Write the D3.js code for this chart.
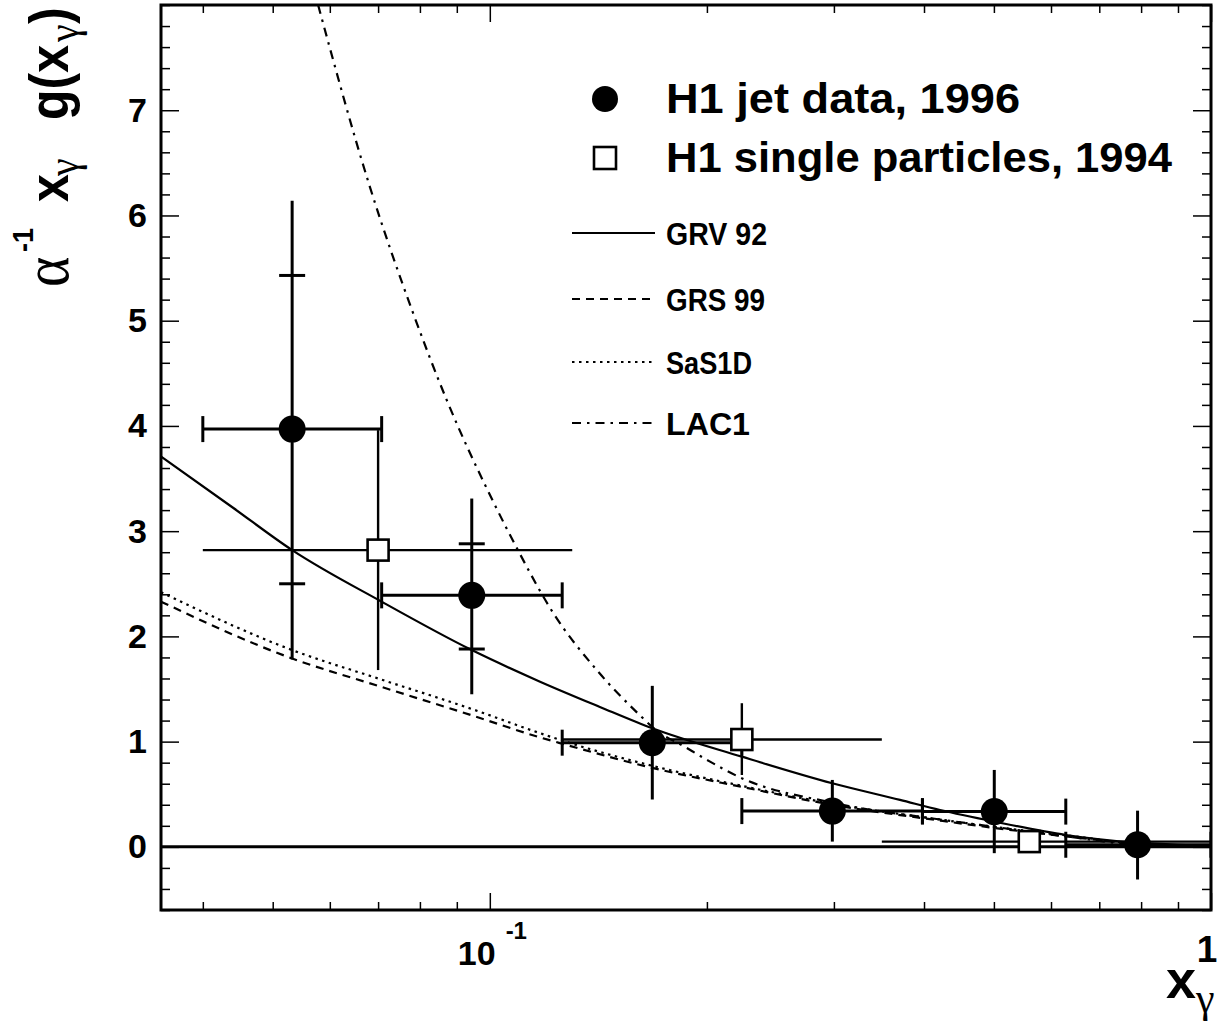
<!DOCTYPE html>
<html>
<head>
<meta charset="utf-8">
<script src="https://cdn.jsdelivr.net/npm/d3@7"></script>
<style>
  body { margin: 0; background: #fff; }
  svg { display: block; font-family: "Liberation Sans", Arial, Helvetica, sans-serif; font-weight: bold; }
  .axis path { display: none; }
  .axis line { stroke: #000; stroke-width: 1.5; }
  .axis text { font-size: 34px; font-weight: bold; fill: #000; }
</style>
</head>
<body>
<svg id="chart" width="1222" height="1024"></svg>
<script>
// H1 jet data, 1996 (filled circles)
const jetX = [0.0532, 0.0944, 0.168, 0.2985, 0.5006, 0.791]
const jetY = [3.97, 2.39, 0.99, 0.34, 0.335, 0.02]
const jetXLo = [0.040, 0.0708, 0.126, 0.2236, 0.398, 0.629]
const jetXHi = [0.0708, 0.126, 0.2236, 0.398, 0.629, 1.0]
const jetYLo = [1.78, 1.45, 0.45, 0.05, -0.06, -0.31]
const jetYHi = [6.14, 3.31, 1.53, 0.636, 0.731, 0.344]
const jetStatLo = [2.50, 1.88, null, null, null, null]
const jetStatHi = [5.43, 2.88, null, null, null, null]

// H1 single particles, 1994 (open squares)
const sglX = [0.070, 0.2236, 0.5598]
const sglY = [2.82, 1.02, 0.05]
const sglXLo = [0.040, 0.126, 0.3496]
const sglXHi = [0.1301, 0.3496, 1.0]
const sglYLo = [1.68, 0.683, 0.01]
const sglYHi = [3.96, 1.365, 0.09]

// theory curves
const grvX = [0.035, 0.0441, 0.0532, 0.0708, 0.0944, 0.1174, 0.1421, 0.168, 0.2236, 0.2985, 0.3705, 0.421, 0.5006, 0.629, 0.791, 0.9, 1.0]
const grvY = [3.71, 3.22, 2.82, 2.33, 1.87, 1.57, 1.33, 1.127, 0.857, 0.604, 0.446, 0.35, 0.24, 0.113, 0.04, 0.02, 0.01]

const grsX = [0.035, 0.0532, 0.070, 0.0944, 0.1174, 0.126, 0.168, 0.2236, 0.2985, 0.421, 0.5006, 0.629, 0.791, 1.0]
const grsY = [2.33, 1.79, 1.53, 1.25, 1.04, 0.98, 0.75, 0.57, 0.40, 0.25, 0.18, 0.10, 0.03, 0.0]

const sasX = [0.035, 0.0532, 0.070, 0.0944, 0.1174, 0.126, 0.168, 0.2236, 0.2985, 0.421, 0.5006, 0.629, 0.791, 1.0]
const sasY = [2.42, 1.87, 1.60, 1.31, 1.08, 1.01, 0.77, 0.58, 0.41, 0.26, 0.19, 0.11, 0.03, 0.0]

const lacX = [0.0578, 0.0682, 0.0783, 0.0871, 0.1011, 0.109, 0.1225, 0.1407, 0.1615, 0.1686, 0.1875, 0.202, 0.2223, 0.2985, 0.421, 0.5006, 0.629, 0.791, 1.0]
const lacY = [8.0, 6.27, 5.07, 4.25, 3.28, 2.84, 2.22, 1.68, 1.25, 1.13, 0.94, 0.81, 0.66, 0.42, 0.26, 0.19, 0.10, 0.02, 0.0]

const yMajor = [0, 1, 2, 3, 4, 5, 6, 7]
const xMinorTicks = [0.04, 0.05, 0.06, 0.07, 0.08, 0.09, 0.2, 0.3, 0.4, 0.5, 0.6, 0.7, 0.8, 0.9]
const xMajorTicks = [0.1, 1]

const legendItems = [
  { label: 'GRV 92', dash: null, width: 101 },
  { label: 'GRS 99', dash: '8,6', width: 99 },
  { label: 'SaS1D', dash: '2.5,4.5', width: 86 },
  { label: 'LAC1', dash: '9,6,2.5,6', width: 84 },
]

const svg = d3.select('#chart')
const margin = { top: 5, right: 11, bottom: 114, left: 161 }
const W = 1222, H = 1024
const x0 = margin.left, x1 = W - margin.right
const yTop = margin.top, yBot = H - margin.bottom

const x = d3.scaleLog().domain([0.035, 1]).range([x0, x1])
const y = d3.scaleLinear().domain([-0.6, 8]).range([yBot, yTop])

const yMinor = d3.range(-0.6, 8.001, 0.2).map((v) => +v.toFixed(1)).filter((v) => !yMajor.includes(v))

// axes (ticks drawn inward)
svg.append('g').attr('class', 'axis').attr('transform', `translate(0,${yBot})`)
  .call(d3.axisBottom(x).tickValues(xMinorTicks).tickSize(-8).tickFormat(''))
svg.append('g').attr('class', 'axis').attr('transform', `translate(0,${yBot})`)
  .call(d3.axisBottom(x).tickValues(xMajorTicks).tickSize(-17).tickFormat(''))
svg.append('g').attr('class', 'axis').attr('transform', `translate(0,${yTop})`)
  .call(d3.axisTop(x).tickValues(xMinorTicks).tickSize(-8).tickFormat(''))
svg.append('g').attr('class', 'axis').attr('transform', `translate(0,${yTop})`)
  .call(d3.axisTop(x).tickValues(xMajorTicks).tickSize(-17).tickFormat(''))

svg.append('g').attr('class', 'axis').attr('transform', `translate(${x0},0)`)
  .call(d3.axisLeft(y).tickValues(yMinor).tickSize(-9).tickFormat(''))
svg.append('g').attr('class', 'axis').attr('transform', `translate(${x0},0)`)
  .call(d3.axisLeft(y).tickValues(yMajor).tickSize(-18).tickPadding(14).tickFormat(d3.format('d')))
svg.append('g').attr('class', 'axis').attr('transform', `translate(${x1},0)`)
  .call(d3.axisRight(y).tickValues(yMinor).tickSize(-9).tickFormat(''))
svg.append('g').attr('class', 'axis').attr('transform', `translate(${x1},0)`)
  .call(d3.axisRight(y).tickValues(yMajor).tickSize(-18).tickFormat(''))

// x tick labels
const t10 = svg.append('text').attr('x', x(0.1) - 32).attr('y', 965).attr('font-size', 34)
t10.append('tspan').text('10')
t10.append('tspan').attr('dx', 10).attr('dy', -26).attr('font-size', 24).text('-1')
svg.append('text').attr('x', x(1) - 4).attr('y', 962).attr('text-anchor', 'middle').attr('font-size', 37).text('1')

const greek = '"Liberation Serif", "DejaVu Serif", serif'

// axis titles
const xt = svg.append('text').attr('x', 1166).attr('y', 998).attr('font-size', 54)
xt.append('tspan').text('x')
xt.append('tspan').attr('font-family', greek).attr('font-weight', 'normal')
  .attr('font-size', 42).attr('dy', 14).text('γ')

const yt = svg.append('text').attr('transform', 'translate(68,287) rotate(-90) scale(1,1.12)').attr('font-size', 50)
yt.append('tspan').attr('x', 0).attr('font-family', greek).attr('font-weight', 'normal').attr('font-size', 58).text('α')
yt.append('tspan').attr('x', 35).attr('y', -31).attr('font-size', 27).text('-1')
yt.append('tspan').attr('x', 85).attr('y', 0).text('x')
yt.append('tspan').attr('x', 111).attr('y', 9).attr('font-family', greek).attr('font-weight', 'normal').attr('font-size', 40).text('γ')
yt.append('tspan').attr('x', 167).attr('y', 0).text('g(x')
yt.append('tspan').attr('x', 245).attr('y', 9).attr('font-family', greek).attr('font-weight', 'normal').attr('font-size', 40).text('γ')
yt.append('tspan').attr('x', 263).attr('y', 0).text(')')

// plot content, clipped
svg.append('clipPath').attr('id', 'clip').append('rect')
  .attr('x', x0).attr('y', yTop).attr('width', x1 - x0).attr('height', yBot - yTop)
const plot = svg.append('g').attr('clip-path', 'url(#clip)')

plot.append('line').attr('x1', x0).attr('x2', x1).attr('y1', y(0)).attr('y2', y(0))
  .attr('stroke', '#000').attr('stroke-width', 3)

const line = d3.line().x((d) => x(d[0])).y((d) => y(d[1])).curve(d3.curveMonotoneX)
const curves = [
  { xs: grvX, ys: grvY, dash: null },
  { xs: grsX, ys: grsY, dash: '8,6' },
  { xs: sasX, ys: sasY, dash: '2.5,4.5' },
  { xs: lacX, ys: lacY, dash: '9,6,2.5,6' },
]
curves.forEach((c) => {
  plot.append('path').datum(d3.zip(c.xs, c.ys)).attr('d', line)
    .attr('fill', 'none').attr('stroke', '#000').attr('stroke-width', 2.2)
    .attr('stroke-dasharray', c.dash)
})

// single particles: thinner bars, no caps
const sgl = plot.append('g').attr('stroke', '#000')
sglX.forEach((v, i) => {
  sgl.append('line').attr('x1', x(sglXLo[i])).attr('x2', x(sglXHi[i])).attr('y1', y(sglY[i])).attr('y2', y(sglY[i])).attr('stroke-width', 2.4)
  sgl.append('line').attr('x1', x(v)).attr('x2', x(v)).attr('y1', y(sglYLo[i])).attr('y2', y(sglYHi[i])).attr('stroke-width', 2.4)
})

// jet data: thicker bars with caps
const cap = 13
const jet = plot.append('g').attr('stroke', '#000').attr('stroke-width', 3)
jetX.forEach((v, i) => {
  const cy = y(jetY[i])
  jet.append('line').attr('x1', x(jetXLo[i])).attr('x2', x(jetXHi[i])).attr('y1', cy).attr('y2', cy)
  jet.append('line').attr('x1', x(jetXLo[i])).attr('x2', x(jetXLo[i])).attr('y1', cy - cap).attr('y2', cy + cap)
  jet.append('line').attr('x1', x(jetXHi[i])).attr('x2', x(jetXHi[i])).attr('y1', cy - cap).attr('y2', cy + cap)
  jet.append('line').attr('x1', x(v)).attr('x2', x(v)).attr('y1', y(jetYLo[i])).attr('y2', y(jetYHi[i]))
  ;[jetStatLo[i], jetStatHi[i]].forEach((s) => {
    if (s == null) return
    jet.append('line').attr('x1', x(v) - cap).attr('x2', x(v) + cap).attr('y1', y(s)).attr('y2', y(s))
  })
})

plot.selectAll('rect.sq').data(sglX).join('rect').attr('class', 'sq')
  .attr('x', (d) => x(d) - 10.5).attr('y', (d, i) => y(sglY[i]) - 10.5)
  .attr('width', 21).attr('height', 21)
  .attr('fill', '#fff').attr('stroke', '#000').attr('stroke-width', 2.6)

plot.selectAll('circle.pt').data(jetX).join('circle').attr('class', 'pt')
  .attr('cx', (d) => x(d)).attr('cy', (d, i) => y(jetY[i])).attr('r', 13.5).attr('fill', '#000')

// frame
svg.append('rect').attr('x', x0).attr('y', yTop).attr('width', x1 - x0).attr('height', yBot - yTop)
  .attr('fill', 'none').attr('stroke', '#000').attr('stroke-width', 3)

// legend
const lg = svg.append('g')
lg.append('circle').attr('cx', 605).attr('cy', 99).attr('r', 13).attr('fill', '#000')
lg.append('text').attr('x', 666).attr('y', 113).attr('font-size', 42)
  .attr('textLength', 354).attr('lengthAdjust', 'spacingAndGlyphs').text('H1 jet data, 1996')
lg.append('rect').attr('x', 594).attr('y', 147).attr('width', 22).attr('height', 22)
  .attr('fill', '#fff').attr('stroke', '#000').attr('stroke-width', 2.6)
lg.append('text').attr('x', 666).attr('y', 172).attr('font-size', 42)
  .attr('textLength', 506).attr('lengthAdjust', 'spacingAndGlyphs').text('H1 single particles, 1994')

const legendY = [233, 299, 362, 423]
legendItems.forEach((d, i) => {
  lg.append('line').attr('x1', 572).attr('x2', 655).attr('y1', legendY[i]).attr('y2', legendY[i])
    .attr('stroke', '#000').attr('stroke-width', 2.2).attr('stroke-dasharray', d.dash)
  lg.append('text').attr('x', 666).attr('y', legendY[i] + 12).attr('font-size', 32)
    .attr('textLength', d.width).attr('lengthAdjust', 'spacingAndGlyphs').text(d.label)
})
</script>
</body>
</html>
